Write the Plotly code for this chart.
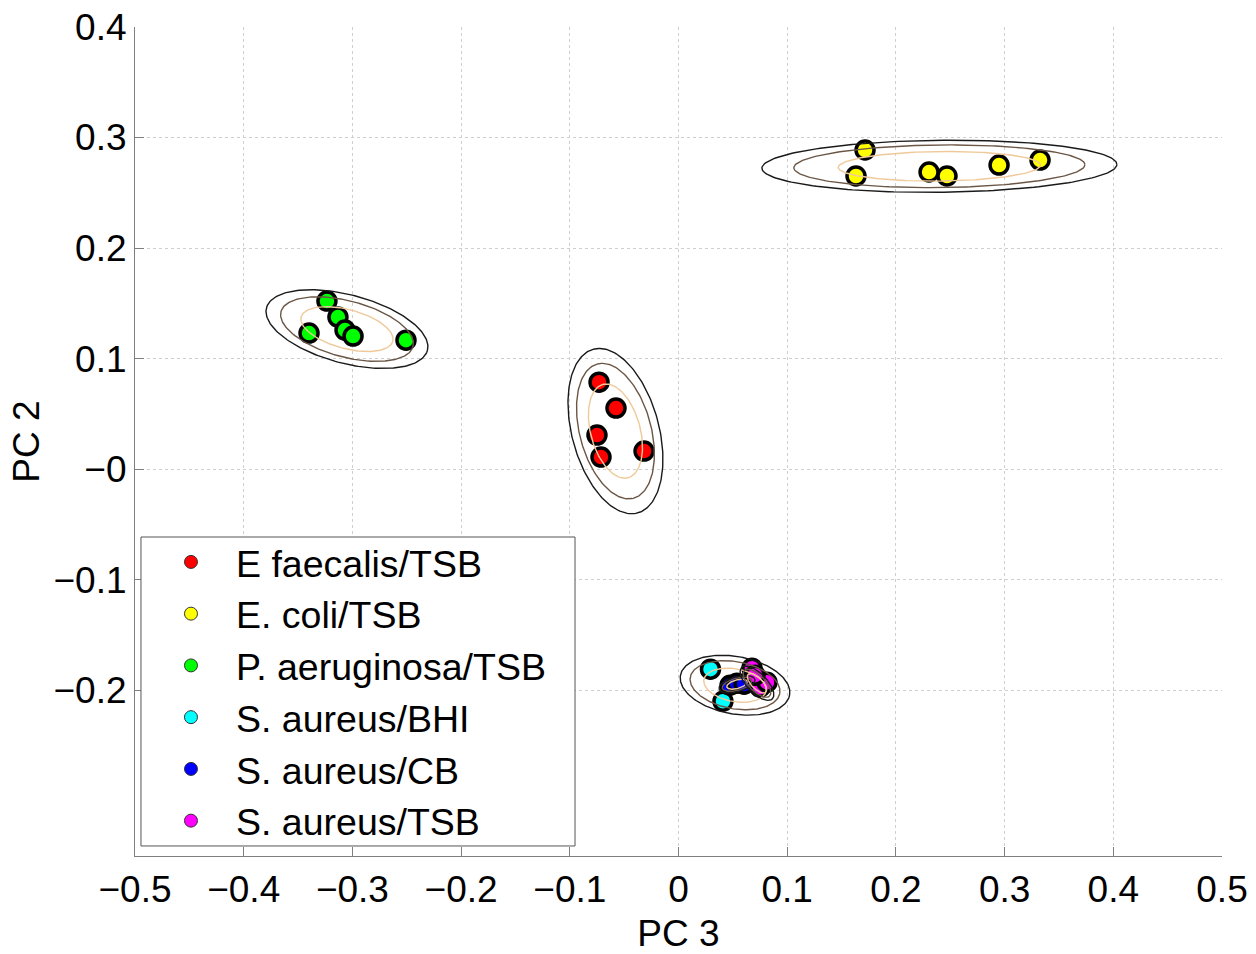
import numpy as np
import plotly.graph_objects as go

# ---------------- data ----------------
groups = ["E faecalis/TSB", "E. coli/TSB", "P. aeruginosa/TSB",
          "S. aureus/BHI", "S. aureus/CB", "S. aureus/TSB"]
colors = ["#FF0000", "#FFFF00", "#00FF00", "#00FFFF", "#0000FF", "#FF00FF"]

pc3_faecalis = [-0.0731, -0.0575, -0.0750, -0.0713, -0.0317]
pc2_faecalis = [0.0787, 0.0552, 0.0308, 0.0109, 0.0163]

pc3_coli = [0.1716, 0.1633, 0.2305, 0.2470, 0.2949, 0.3326]
pc2_coli = [0.2887, 0.2652, 0.2688, 0.2652, 0.2751, 0.2796]

pc3_aerug = [-0.3234, -0.3133, -0.3068, -0.2994, -0.3399, -0.2507]
pc2_aerug = [0.1520, 0.1376, 0.1258, 0.1204, 0.1231, 0.1167]

pc3_bhi = [0.0294, 0.0409]
pc2_bhi = [-0.1810, -0.2100]

pc3_cb = [0.0474, 0.0538, 0.0603]
pc2_cb = [-0.1955, -0.1937, -0.1946]

pc3_tsb = [0.0676, 0.0750, 0.0814, 0.0704]
pc2_tsb = [-0.1801, -0.1973, -0.1928, -0.1864]

pc3_all = [pc3_faecalis, pc3_coli, pc3_aerug, pc3_bhi, pc3_cb, pc3_tsb]
pc2_all = [pc2_faecalis, pc2_coli, pc2_aerug, pc2_bhi, pc2_cb, pc2_tsb]

# outer confidence contour per group: centre x, centre y, semi-axis a, semi-axis b, angle (deg)
ell_cx = [-0.058, 0.240, -0.305, 0.052, 0.0538, 0.0722]
ell_cy = [0.0344, 0.274, 0.1267, -0.1955, -0.1946, -0.1937]
ell_a = [0.0768, 0.1633, 0.0765, 0.051, 0.017, 0.020]
ell_b = [0.0400, 0.0235, 0.0310, 0.026, 0.0068, 0.009]
ell_ang = [105.5, 0.6, -14.5, -10.0, 15.0, -45.0]
# contour levels relative to outer contour, and their colours
level_scale = [0.57, 0.82, 1.0]
level_color = ["#EFC999", "#6B5646", "#1A1A1A"]

x_ticks = [-0.5, -0.4, -0.3, -0.2, -0.1, 0, 0.1, 0.2, 0.3, 0.4, 0.5]
x_ticktext = ["\u22120.5", "\u22120.4", "\u22120.3", "\u22120.2", "\u22120.1", "0",
              "0.1", "0.2", "0.3", "0.4", "0.5"]
y_ticks = [-0.2, -0.1, 0, 0.1, 0.2, 0.3, 0.4]
y_ticktext = ["\u22120.2", "\u22120.1", "\u22120", "0.1", "0.2", "0.3", "0.4"]

FONT = "Liberation Sans, Arial, Helvetica, sans-serif"

fig = go.Figure()

# points
for name, col, xs, ys in zip(groups, colors, pc3_all, pc2_all):
    fig.add_trace(go.Scatter(
        x=xs, y=ys, mode="markers", showlegend=False, hoverinfo="x+y",
        marker=dict(size=18, color=col, line=dict(color="black", width=3.5)),
        name=name))

# contours drawn on top of points
t = np.linspace(0, 2 * np.pi, 200)
for cx, cy, a, b, ang in zip(ell_cx, ell_cy, ell_a, ell_b, ell_ang):
    th = np.deg2rad(ang)
    for s, lc in zip(level_scale, level_color):
        u = s * a * np.cos(t)
        v = s * b * np.sin(t)
        ex = cx + u * np.cos(th) - v * np.sin(th)
        ey = cy + u * np.sin(th) + v * np.cos(th)
        fig.add_trace(go.Scatter(x=ex, y=ey, mode="lines", showlegend=False,
                                 hoverinfo="skip",
                                 line=dict(color=lc, width=1.4)))

# legend entries
for name, col in zip(groups, colors):
    fig.add_trace(go.Scatter(
        x=[None], y=[None], mode="markers", name=name,
        marker=dict(size=13, color=col, line=dict(color="#333333", width=1))))

axis_common = dict(
    showline=True, linecolor="#7F7F7F", linewidth=1.2, mirror=False,
    ticks="inside", ticklen=9, tickcolor="#7F7F7F", tickwidth=1,
    showgrid=True, gridcolor="#CFCFCF", griddash="dot", gridwidth=1,
    zeroline=False, automargin=False,
    tickfont=dict(size=37, color="black", family=FONT),
)

fig.update_xaxes(range=[-0.5, 0.5], tickvals=x_ticks, ticktext=x_ticktext,
                 title=dict(text="PC 3", font=dict(size=37, family=FONT, color="black"),
                            standoff=15),
                 **axis_common)
fig.update_yaxes(range=[-0.35, 0.4], tickvals=y_ticks, ticktext=y_ticktext,
                 title=dict(text="PC 2", font=dict(size=37, family=FONT, color="black"),
                            standoff=2),
                 **axis_common)

# legend frame (white box with grey border) behind the legend entries
fig.add_shape(type="rect", xref="paper", yref="paper",
              x0=0.0055, x1=0.4048, y0=0.0121, y1=0.3848,
              line=dict(color="#555555", width=1), fillcolor="white", layer="above")

fig.update_layout(
    width=1256, height=954,
    margin=dict(l=135, r=34, t=27, b=98),
    paper_bgcolor="white", plot_bgcolor="white",
    font=dict(family=FONT, color="black"),
    legend=dict(x=0.0055, y=0.392, xanchor="left", yanchor="top",
                bgcolor="rgba(0,0,0,0)", borderwidth=0,
                font=dict(size=37.5, family=FONT, color="black"),
                itemwidth=80, indentation=5, tracegroupgap=0),
)

fig.write_html("out.html", config={"displayModeBar": False},
               post_script="document.body.style.margin='0px';"
                           "document.body.style.overflow='hidden';")
